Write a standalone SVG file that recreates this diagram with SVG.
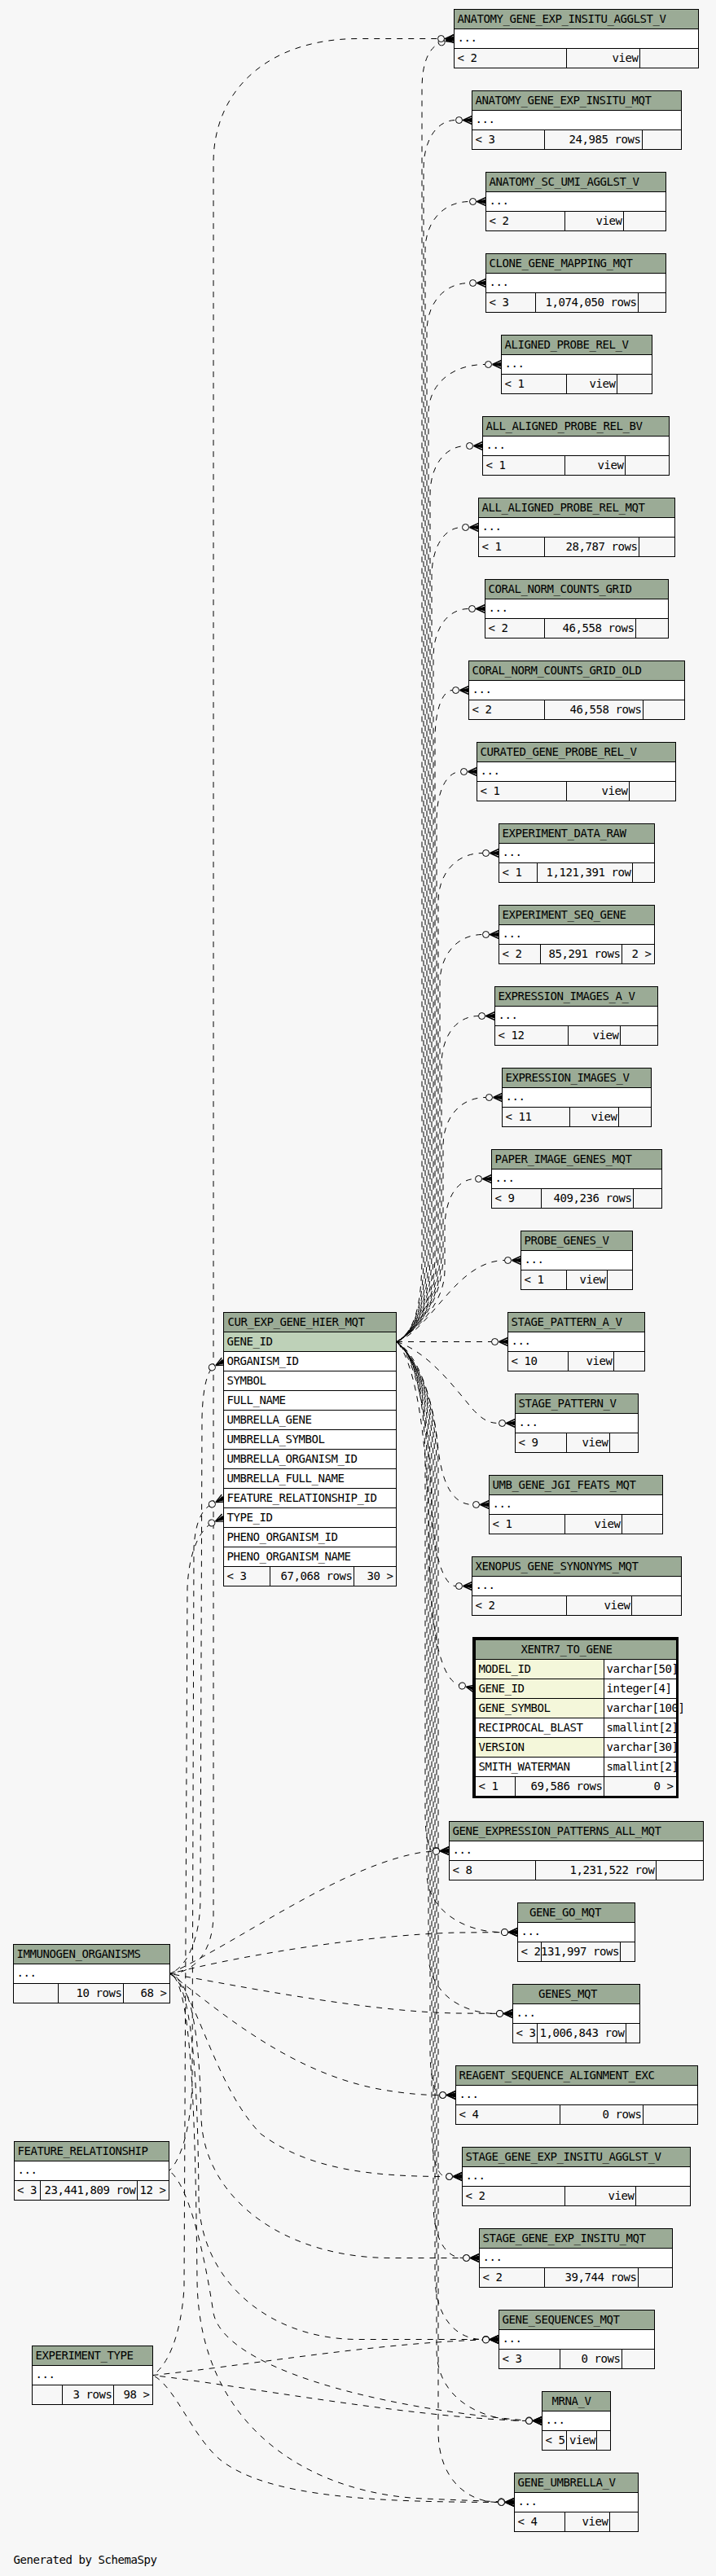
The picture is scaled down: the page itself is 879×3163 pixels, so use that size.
<svg xmlns="http://www.w3.org/2000/svg" width="879" height="3163" viewBox="0 0 879 3163">
<style>
.hd{fill:#9bab96;stroke:#000;stroke-width:1}
.bd{fill:#fff;stroke:#000;stroke-width:1}
.ft{fill:#f7f7f7;stroke:#000;stroke-width:1}
.pk{fill:#bed1b8;stroke:#000;stroke-width:1}
.ix{fill:#f4f7da;stroke:#000;stroke-width:1}
text{font-family:"DejaVu Sans Mono","Liberation Mono",monospace;font-size:14px;letter-spacing:-0.43px;fill:#000}
.r{text-anchor:end}
.e{fill:none;stroke:#000;stroke-width:1;stroke-dasharray:7,7;marker-end:url(#crow)}
</style>
<defs>
<marker id="crow" viewBox="-22 -7 24 14" refX="0" refY="0" markerWidth="24" markerHeight="14" markerUnits="userSpaceOnUse" orient="auto" overflow="visible">
<circle cx="-16" cy="0" r="4" fill="#f7f7f7" stroke="#000" stroke-width="1"/>
<path d="M-11,0 L0,-3 L0,3 Z" fill="#000"/>
<path d="M-11,0 L0,-5 M-11,0 L0,5 M-11,0 L0,0" fill="none" stroke="#000" stroke-width="1.4"/>
</marker>
</defs>
<rect x="0" y="0" width="879" height="3163" fill="#f7f7f7"/>
<g id="connectors">
<path class="e" stroke-dashoffset="0" d="M487,1647.5 C510,1635 518,1600 518,1540 L518,110 C518,70 530,55 545,51 L557.5,47.5"/>
<path class="e" stroke-dashoffset="5" d="M487,1647.5 C510,1635 520,1600 520,1540 L520,207.5 C520,172.5 536,147.5 559.5,147.5 L579.5,147.5"/>
<path class="e" stroke-dashoffset="10" d="M487,1647.5 C510,1635 522,1600 522,1540 L522,307.5 C522,272.5 544,247.5 576.5,247.5 L596.5,247.5"/>
<path class="e" stroke-dashoffset="2" d="M487,1647.5 C510,1635 524,1600 524,1540 L524,407.5 C524,372.5 545,347.5 576.5,347.5 L596.5,347.5"/>
<path class="e" stroke-dashoffset="8" d="M487,1647.5 C510,1635 526,1600 526,1540 L526,507.5 C526,472.5 554,447.5 595.5,447.5 L615.5,447.5"/>
<path class="e" stroke-dashoffset="12" d="M487,1647.5 C510,1635 528,1600 528,1540 L528,607.5 C528,572.5 546,547.5 572.5,547.5 L592.5,547.5"/>
<path class="e" stroke-dashoffset="3" d="M487,1647.5 C510,1635 530,1600 530,1540 L530,707.5 C530,672.5 545,647.5 567.5,647.5 L587.5,647.5"/>
<path class="e" stroke-dashoffset="9" d="M487,1647.5 C510,1635 532,1600 532,1540 L532,807.5 C532,772.5 549,747.5 575.5,747.5 L595.5,747.5"/>
<path class="e" stroke-dashoffset="6" d="M487,1647.5 C510,1635 534,1600 534,1540 L534,907.5 C534,872.5 543,847.5 555.5,847.5 L575.5,847.5"/>
<path class="e" stroke-dashoffset="13" d="M487,1647.5 C510,1635 536,1600 536,1540 L536,1007.5 C536,972.5 548,947.5 565.5,947.5 L585.5,947.5"/>
<path class="e" stroke-dashoffset="1" d="M487,1647.5 C510,1635 538,1600 538,1540 L538,1107.5 C538,1072.5 560,1047.5 592.5,1047.5 L612.5,1047.5"/>
<path class="e" stroke-dashoffset="7" d="M487,1647.5 C510,1635 540,1600 540,1540 L540,1207.5 C540,1172.5 561,1147.5 592.5,1147.5 L612.5,1147.5"/>
<path class="e" stroke-dashoffset="11" d="M487,1647.5 C510,1635 542,1600 542,1540 L542,1307.5 C542,1272.5 560,1247.5 587.5,1247.5 L607.5,1247.5"/>
<path class="e" stroke-dashoffset="4" d="M487,1647.5 C510,1635 544,1600 544,1540 L544,1407.5 C544,1372.5 565,1347.5 596.5,1347.5 L616.5,1347.5"/>
<path class="e" stroke-dashoffset="9" d="M487,1647.5 C510,1635 546,1600 546,1560 L546,1507.5 C546,1472.5 561,1447.5 583.5,1447.5 L603.5,1447.5"/>
<path class="e" d="M487,1647.5 C530,1632 560,1548 619.5,1547.5 L639.5,1547.5"/>
<path class="e" d="M487,1647.5 L623.5,1647.5"/>
<path class="e" d="M487,1647.5 C525,1660 555,1700 580,1730 C592,1743 600,1747.5 612.5,1747.5 L632.5,1747.5"/>
<path class="e" stroke-dashoffset="3" d="M487,1647.5 C515,1665 532,1720 538,1780 C544,1830 560,1847.5 580.5,1847.5 L600.5,1847.5"/>
<path class="e" stroke-dashoffset="8" d="M487,1647.5 C512,1670 528,1750 530,1850 C532,1910 545,1947.5 559.5,1947.5 L579.5,1947.5"/>
<path class="e" stroke-dashoffset="12" d="M487,1647.5 C512,1675 526,1780 527,1900 C528,2000 540,2060 563,2069 L583,2073.5"/>
<path class="e" stroke-dashoffset="0" d="M487,1647.5 C510,1665 522,1720 522,1800 L522,2225 C522,2255 526,2272.5 531.5,2272.5 L551.5,2272.5"/>
<path class="e" stroke-dashoffset="5" d="M487,1647.5 C510,1665 524,1720 524,1800 L524,2300 C524,2345 570,2372.5 615.5,2372.5 L635.5,2372.5"/>
<path class="e" stroke-dashoffset="10" d="M487,1647.5 C510,1665 526,1720 526,1800 L526,2400 C526,2445 565,2472.5 609.5,2472.5 L629.5,2472.5"/>
<path class="e" stroke-dashoffset="2" d="M487,1647.5 C510,1665 528,1720 528,1800 L528,2515 C528,2550 533,2570 539.5,2572.5 L559.5,2572.5"/>
<path class="e" stroke-dashoffset="7" d="M487,1647.5 C510,1665 530,1720 530,1800 L530,2615 C530,2650 537,2672.5 547.5,2672.5 L567.5,2672.5"/>
<path class="e" stroke-dashoffset="13" d="M487,1647.5 C510,1665 532,1720 532,1800 L532,2705 C532,2750 548,2772.5 568.5,2772.5 L588.5,2772.5"/>
<path class="e" stroke-dashoffset="4" d="M487,1647.5 C510,1665 534,1720 534,1800 L534,2795 C534,2845 560,2872.5 592.5,2872.5 L612.5,2872.5"/>
<path class="e" stroke-dashoffset="9" d="M487,1647.5 C510,1665 536,1720 536,1800 L536,2885 C536,2945 590,2972.5 645.5,2972.5 L665.5,2972.5"/>
<path class="e" stroke-dashoffset="1" d="M487,1647.5 C510,1665 538,1720 538,1800 L538,2985 C538,3045 575,3072.5 611.5,3072.5 L631.5,3072.5"/>
<path class="e" d="M208.5,2423.5 C235,2423 262,2400 262,2350 L262,200 C262,110 330,47.5 440,47.5 L557.5,47.5"/>
<path class="e" stroke-dashoffset="6" d="M208.5,2423.5 C230,2415 246,2380 246,2330 L248,1740 C249,1705 254,1685 262,1678 L274.5,1671.5"/>
<path class="e" d="M208.5,2423.5 C300,2380 420,2290 520,2274 L551.5,2272.5"/>
<path class="e" stroke-dashoffset="4" d="M208.5,2423.5 C300,2400 450,2376 560,2373 L635.5,2372.5"/>
<path class="e" stroke-dashoffset="9" d="M208.5,2423.5 C300,2440 450,2470 560,2472 L629.5,2472.5"/>
<path class="e" stroke-dashoffset="2" d="M208.5,2423.5 C260,2460 350,2545 470,2566 C500,2571 520,2572.5 539.5,2572.5 L559.5,2572.5"/>
<path class="e" stroke-dashoffset="11" d="M208.5,2423.5 C240,2440 262,2560 320,2620 C380,2665 460,2672.5 547.5,2672.5 L567.5,2672.5"/>
<path class="e" stroke-dashoffset="5" d="M208.5,2423.5 C235,2430 245,2500 247,2600 C250,2700 350,2772.5 480,2772.5 L588.5,2772.5"/>
<path class="e" stroke-dashoffset="13" d="M208.5,2423.5 C235,2430 243,2550 244,2700 C246,2800 330,2872.5 440,2872.5 L612.5,2872.5"/>
<path class="e" stroke-dashoffset="8" d="M208.5,2423.5 C235,2430 240,2600 242,2800 C244,2980 380,3062 520,3068 L631.5,3072.5"/>
<path class="e" stroke-dashoffset="3" d="M207.5,2665.5 C225,2650 236,2600 236,2550 L238,1900 C240,1865 250,1851 262,1846 L274.5,1839.5"/>
<path class="e" stroke-dashoffset="10" d="M207.5,2665.5 C230,2680 250,2760 262,2840 C275,2905 450,2955 645.5,2972 L665.5,2972.5"/>
<path class="e" stroke-dashoffset="7" d="M187.5,2916.5 C205,2905 222,2870 226,2810 L230,1950 C232,1900 248,1876 262,1869 L274.5,1863.5"/>
<path class="e" d="M187.5,2916.5 C300,2905 450,2878 592.5,2873 L612.5,2872.5"/>
<path class="e" stroke-dashoffset="5" d="M187.5,2916.5 C300,2930 500,2968 645.5,2972.5 L665.5,2972.5"/>
<path class="e" stroke-dashoffset="11" d="M187.5,2916.5 C215,2930 235,2990 270,3020 C330,3068 470,3072 611.5,3072.5 L631.5,3072.5"/>
</g>
<g id="ANATOMY_GENE_EXP_INSITU_AGGLST_V">
<rect class="hd" x="557.5" y="11.5" width="300" height="24"/><rect class="bd" x="557.5" y="35.5" width="300" height="24"/>
<rect class="ft" x="557.5" y="59.5" width="138" height="24"/><rect class="ft" x="695.5" y="59.5" width="90" height="24"/><rect class="ft" x="785.5" y="59.5" width="72" height="24"/>
<text x="561.5" y="27.5">ANATOMY_GENE_EXP_INSITU_AGGLST_V</text><text x="561.5" y="51">...</text><text x="561.5" y="75.5">&lt; 2</text><text class="r" x="783.5" y="75.5">view</text>
</g>
<g id="ANATOMY_GENE_EXP_INSITU_MQT">
<rect class="hd" x="579.5" y="111.5" width="257" height="24"/><rect class="bd" x="579.5" y="135.5" width="257" height="24"/>
<rect class="ft" x="579.5" y="159.5" width="89" height="24"/><rect class="ft" x="668.5" y="159.5" width="120" height="24"/><rect class="ft" x="788.5" y="159.5" width="48" height="24"/>
<text x="583.5" y="127.5">ANATOMY_GENE_EXP_INSITU_MQT</text><text x="583.5" y="151">...</text><text x="583.5" y="175.5">&lt; 3</text><text class="r" x="786.5" y="175.5">24,985 rows</text>
</g>
<g id="ANATOMY_SC_UMI_AGGLST_V">
<rect class="hd" x="596.5" y="211.5" width="221" height="24"/><rect class="bd" x="596.5" y="235.5" width="221" height="24"/>
<rect class="ft" x="596.5" y="259.5" width="97" height="24"/><rect class="ft" x="693.5" y="259.5" width="72" height="24"/><rect class="ft" x="765.5" y="259.5" width="52" height="24"/>
<text x="600.5" y="227.5">ANATOMY_SC_UMI_AGGLST_V</text><text x="600.5" y="251">...</text><text x="600.5" y="275.5">&lt; 2</text><text class="r" x="763.5" y="275.5">view</text>
</g>
<g id="CLONE_GENE_MAPPING_MQT">
<rect class="hd" x="596.5" y="311.5" width="221" height="24"/><rect class="bd" x="596.5" y="335.5" width="221" height="24"/>
<rect class="ft" x="596.5" y="359.5" width="61" height="24"/><rect class="ft" x="657.5" y="359.5" width="126" height="24"/><rect class="ft" x="783.5" y="359.5" width="34" height="24"/>
<text x="600.5" y="327.5">CLONE_GENE_MAPPING_MQT</text><text x="600.5" y="351">...</text><text x="600.5" y="375.5">&lt; 3</text><text class="r" x="781.5" y="375.5">1,074,050 rows</text>
</g>
<g id="ALIGNED_PROBE_REL_V">
<rect class="hd" x="615.5" y="411.5" width="185" height="24"/><rect class="bd" x="615.5" y="435.5" width="185" height="24"/>
<rect class="ft" x="615.5" y="459.5" width="80" height="24"/><rect class="ft" x="695.5" y="459.5" width="62" height="24"/><rect class="ft" x="757.5" y="459.5" width="43" height="24"/>
<text x="619.5" y="427.5">ALIGNED_PROBE_REL_V</text><text x="619.5" y="451">...</text><text x="619.5" y="475.5">&lt; 1</text><text class="r" x="755.5" y="475.5">view</text>
</g>
<g id="ALL_ALIGNED_PROBE_REL_BV">
<rect class="hd" x="592.5" y="511.5" width="229" height="24"/><rect class="bd" x="592.5" y="535.5" width="229" height="24"/>
<rect class="ft" x="592.5" y="559.5" width="101" height="24"/><rect class="ft" x="693.5" y="559.5" width="74" height="24"/><rect class="ft" x="767.5" y="559.5" width="54" height="24"/>
<text x="596.5" y="527.5">ALL_ALIGNED_PROBE_REL_BV</text><text x="596.5" y="551">...</text><text x="596.5" y="575.5">&lt; 1</text><text class="r" x="765.5" y="575.5">view</text>
</g>
<g id="ALL_ALIGNED_PROBE_REL_MQT">
<rect class="hd" x="587.5" y="611.5" width="241" height="24"/><rect class="bd" x="587.5" y="635.5" width="241" height="24"/>
<rect class="ft" x="587.5" y="659.5" width="81" height="24"/><rect class="ft" x="668.5" y="659.5" width="116" height="24"/><rect class="ft" x="784.5" y="659.5" width="44" height="24"/>
<text x="591.5" y="627.5">ALL_ALIGNED_PROBE_REL_MQT</text><text x="591.5" y="651">...</text><text x="591.5" y="675.5">&lt; 1</text><text class="r" x="782.5" y="675.5">28,787 rows</text>
</g>
<g id="CORAL_NORM_COUNTS_GRID">
<rect class="hd" x="595.5" y="711.5" width="225" height="24"/><rect class="bd" x="595.5" y="735.5" width="225" height="24"/>
<rect class="ft" x="595.5" y="759.5" width="73" height="24"/><rect class="ft" x="668.5" y="759.5" width="112" height="24"/><rect class="ft" x="780.5" y="759.5" width="40" height="24"/>
<text x="599.5" y="727.5">CORAL_NORM_COUNTS_GRID</text><text x="599.5" y="751">...</text><text x="599.5" y="775.5">&lt; 2</text><text class="r" x="778.5" y="775.5">46,558 rows</text>
</g>
<g id="CORAL_NORM_COUNTS_GRID_OLD">
<rect class="hd" x="575.5" y="811.5" width="265" height="24"/><rect class="bd" x="575.5" y="835.5" width="265" height="24"/>
<rect class="ft" x="575.5" y="859.5" width="93" height="24"/><rect class="ft" x="668.5" y="859.5" width="121" height="24"/><rect class="ft" x="789.5" y="859.5" width="51" height="24"/>
<text x="579.5" y="827.5">CORAL_NORM_COUNTS_GRID_OLD</text><text x="579.5" y="851">...</text><text x="579.5" y="875.5">&lt; 2</text><text class="r" x="787.5" y="875.5">46,558 rows</text>
</g>
<g id="CURATED_GENE_PROBE_REL_V">
<rect class="hd" x="585.5" y="911.5" width="244" height="24"/><rect class="bd" x="585.5" y="935.5" width="244" height="24"/>
<rect class="ft" x="585.5" y="959.5" width="110" height="24"/><rect class="ft" x="695.5" y="959.5" width="77" height="24"/><rect class="ft" x="772.5" y="959.5" width="57" height="24"/>
<text x="589.5" y="927.5">CURATED_GENE_PROBE_REL_V</text><text x="589.5" y="951">...</text><text x="589.5" y="975.5">&lt; 1</text><text class="r" x="770.5" y="975.5">view</text>
</g>
<g id="EXPERIMENT_DATA_RAW">
<rect class="hd" x="612.5" y="1011.5" width="191" height="24"/><rect class="bd" x="612.5" y="1035.5" width="191" height="24"/>
<rect class="ft" x="612.5" y="1059.5" width="47" height="24"/><rect class="ft" x="659.5" y="1059.5" width="117" height="24"/><rect class="ft" x="776.5" y="1059.5" width="27" height="24"/>
<text x="616.5" y="1027.5">EXPERIMENT_DATA_RAW</text><text x="616.5" y="1051">...</text><text x="616.5" y="1075.5">&lt; 1</text><text class="r" x="774.5" y="1075.5">1,121,391 row</text>
</g>
<g id="EXPERIMENT_SEQ_GENE">
<rect class="hd" x="612.5" y="1111.5" width="191" height="24"/><rect class="bd" x="612.5" y="1135.5" width="191" height="24"/>
<rect class="ft" x="612.5" y="1159.5" width="51" height="24"/><rect class="ft" x="663.5" y="1159.5" width="100" height="24"/><rect class="ft" x="763.5" y="1159.5" width="40" height="24"/>
<text x="616.5" y="1127.5">EXPERIMENT_SEQ_GENE</text><text x="616.5" y="1151">...</text><text x="616.5" y="1175.5">&lt; 2</text><text class="r" x="761.5" y="1175.5">85,291 rows</text><text class="r" x="799.5" y="1175.5">2 &gt;</text>
</g>
<g id="EXPRESSION_IMAGES_A_V">
<rect class="hd" x="607.5" y="1211.5" width="200" height="24"/><rect class="bd" x="607.5" y="1235.5" width="200" height="24"/>
<rect class="ft" x="607.5" y="1259.5" width="90" height="24"/><rect class="ft" x="697.5" y="1259.5" width="64" height="24"/><rect class="ft" x="761.5" y="1259.5" width="46" height="24"/>
<text x="611.5" y="1227.5">EXPRESSION_IMAGES_A_V</text><text x="611.5" y="1251">...</text><text x="611.5" y="1275.5">&lt; 12</text><text class="r" x="759.5" y="1275.5">view</text>
</g>
<g id="EXPRESSION_IMAGES_V">
<rect class="hd" x="616.5" y="1311.5" width="183" height="24"/><rect class="bd" x="616.5" y="1335.5" width="183" height="24"/>
<rect class="ft" x="616.5" y="1359.5" width="83" height="24"/><rect class="ft" x="699.5" y="1359.5" width="60" height="24"/><rect class="ft" x="759.5" y="1359.5" width="40" height="24"/>
<text x="620.5" y="1327.5">EXPRESSION_IMAGES_V</text><text x="620.5" y="1351">...</text><text x="620.5" y="1375.5">&lt; 11</text><text class="r" x="757.5" y="1375.5">view</text>
</g>
<g id="PAPER_IMAGE_GENES_MQT">
<rect class="hd" x="603.5" y="1411.5" width="209" height="24"/><rect class="bd" x="603.5" y="1435.5" width="209" height="24"/>
<rect class="ft" x="603.5" y="1459.5" width="61" height="24"/><rect class="ft" x="664.5" y="1459.5" width="113" height="24"/><rect class="ft" x="777.5" y="1459.5" width="35" height="24"/>
<text x="607.5" y="1427.5">PAPER_IMAGE_GENES_MQT</text><text x="607.5" y="1451">...</text><text x="607.5" y="1475.5">&lt; 9</text><text class="r" x="775.5" y="1475.5">409,236 rows</text>
</g>
<g id="PROBE_GENES_V">
<rect class="hd" x="639.5" y="1511.5" width="137" height="24"/><rect class="bd" x="639.5" y="1535.5" width="137" height="24"/>
<rect class="ft" x="639.5" y="1559.5" width="56" height="24"/><rect class="ft" x="695.5" y="1559.5" width="50" height="24"/><rect class="ft" x="745.5" y="1559.5" width="31" height="24"/>
<text x="643.5" y="1527.5">PROBE_GENES_V</text><text x="643.5" y="1551">...</text><text x="643.5" y="1575.5">&lt; 1</text><text class="r" x="743.5" y="1575.5">view</text>
</g>
<g id="STAGE_PATTERN_A_V">
<rect class="hd" x="623.5" y="1611.5" width="168" height="24"/><rect class="bd" x="623.5" y="1635.5" width="168" height="24"/>
<rect class="ft" x="623.5" y="1659.5" width="74" height="24"/><rect class="ft" x="697.5" y="1659.5" width="56" height="24"/><rect class="ft" x="753.5" y="1659.5" width="38" height="24"/>
<text x="627.5" y="1627.5">STAGE_PATTERN_A_V</text><text x="627.5" y="1651">...</text><text x="627.5" y="1675.5">&lt; 10</text><text class="r" x="751.5" y="1675.5">view</text>
</g>
<g id="STAGE_PATTERN_V">
<rect class="hd" x="632.5" y="1711.5" width="151" height="24"/><rect class="bd" x="632.5" y="1735.5" width="151" height="24"/>
<rect class="ft" x="632.5" y="1759.5" width="63" height="24"/><rect class="ft" x="695.5" y="1759.5" width="53" height="24"/><rect class="ft" x="748.5" y="1759.5" width="35" height="24"/>
<text x="636.5" y="1727.5">STAGE_PATTERN_V</text><text x="636.5" y="1751">...</text><text x="636.5" y="1775.5">&lt; 9</text><text class="r" x="746.5" y="1775.5">view</text>
</g>
<g id="UMB_GENE_JGI_FEATS_MQT">
<rect class="hd" x="600.5" y="1811.5" width="213" height="24"/><rect class="bd" x="600.5" y="1835.5" width="213" height="24"/>
<rect class="ft" x="600.5" y="1859.5" width="93" height="24"/><rect class="ft" x="693.5" y="1859.5" width="70" height="24"/><rect class="ft" x="763.5" y="1859.5" width="50" height="24"/>
<text x="604.5" y="1827.5">UMB_GENE_JGI_FEATS_MQT</text><text x="604.5" y="1851">...</text><text x="604.5" y="1875.5">&lt; 1</text><text class="r" x="761.5" y="1875.5">view</text>
</g>
<g id="XENOPUS_GENE_SYNONYMS_MQT">
<rect class="hd" x="579.5" y="1911.5" width="257" height="24"/><rect class="bd" x="579.5" y="1935.5" width="257" height="24"/>
<rect class="ft" x="579.5" y="1959.5" width="116" height="24"/><rect class="ft" x="695.5" y="1959.5" width="80" height="24"/><rect class="ft" x="775.5" y="1959.5" width="61" height="24"/>
<text x="583.5" y="1927.5">XENOPUS_GENE_SYNONYMS_MQT</text><text x="583.5" y="1951">...</text><text x="583.5" y="1975.5">&lt; 2</text><text class="r" x="773.5" y="1975.5">view</text>
</g>
<g id="XENTR7_TO_GENE">
<rect class="hd" x="583.5" y="2013.5" width="247" height="24"/>
<rect class="ix" x="583.5" y="2037.5" width="158" height="24"/><rect class="bd" x="741.5" y="2037.5" width="89" height="24"/>
<rect class="ix" x="583.5" y="2061.5" width="158" height="24"/><rect class="bd" x="741.5" y="2061.5" width="89" height="24"/>
<rect class="ix" x="583.5" y="2085.5" width="158" height="24"/><rect class="bd" x="741.5" y="2085.5" width="89" height="24"/>
<rect class="bd" x="583.5" y="2109.5" width="158" height="24"/><rect class="bd" x="741.5" y="2109.5" width="89" height="24"/>
<rect class="ix" x="583.5" y="2133.5" width="158" height="24"/><rect class="bd" x="741.5" y="2133.5" width="89" height="24"/>
<rect class="bd" x="583.5" y="2157.5" width="158" height="24"/><rect class="bd" x="741.5" y="2157.5" width="89" height="24"/>
<rect class="ft" x="583.5" y="2181.5" width="49" height="24"/><rect class="ft" x="632.5" y="2181.5" width="109" height="24"/><rect class="ft" x="741.5" y="2181.5" width="89" height="24"/>
<text x="639.5" y="2030">XENTR7_TO_GENE</text>
<text x="587.5" y="2053.5">MODEL_ID</text><text x="744.5" y="2053.5">varchar[50]</text>
<text x="587.5" y="2077.5">GENE_ID</text><text x="744.5" y="2077.5">integer[4]</text>
<text x="587.5" y="2101.5">GENE_SYMBOL</text><text x="744.5" y="2101.5">varchar[100]</text>
<text x="587.5" y="2125.5">RECIPROCAL_BLAST</text><text x="744.5" y="2125.5">smallint[2]</text>
<text x="587.5" y="2149.5">VERSION</text><text x="744.5" y="2149.5">varchar[30]</text>
<text x="587.5" y="2173.5">SMITH_WATERMAN</text><text x="744.5" y="2173.5">smallint[2]</text>
<text x="587.5" y="2197.5">&lt; 1</text><text class="r" x="739.5" y="2197.5">69,586 rows</text><text class="r" x="826.5" y="2197.5">0 &gt;</text>
<rect x="581.5" y="2011.5" width="250" height="195" fill="none" stroke="#000" stroke-width="3"/>
</g>
<g id="GENE_EXPRESSION_PATTERNS_ALL_MQT">
<rect class="hd" x="551.5" y="2236.5" width="312" height="24"/><rect class="bd" x="551.5" y="2260.5" width="312" height="24"/>
<rect class="ft" x="551.5" y="2284.5" width="106" height="24"/><rect class="ft" x="657.5" y="2284.5" width="148" height="24"/><rect class="ft" x="805.5" y="2284.5" width="58" height="24"/>
<text x="555.5" y="2252.5">GENE_EXPRESSION_PATTERNS_ALL_MQT</text><text x="555.5" y="2276">...</text><text x="555.5" y="2300.5">&lt; 8</text><text class="r" x="803.5" y="2300.5">1,231,522 row</text>
</g>
<g id="GENE_GO_MQT">
<rect class="hd" x="635.5" y="2336.5" width="144" height="24"/><rect class="bd" x="635.5" y="2360.5" width="144" height="24"/>
<rect class="ft" x="635.5" y="2384.5" width="29" height="24"/><rect class="ft" x="664.5" y="2384.5" width="97" height="24"/><rect class="ft" x="761.5" y="2384.5" width="18" height="24"/>
<text x="650" y="2352.5">GENE_GO_MQT</text><text x="639.5" y="2376">...</text><text x="639.5" y="2400.5">&lt; 2</text><text class="r" x="760" y="2400.5">131,997 rows</text>
</g>
<g id="GENES_MQT">
<rect class="hd" x="629.5" y="2436.5" width="156" height="24"/><rect class="bd" x="629.5" y="2460.5" width="156" height="24"/>
<rect class="ft" x="629.5" y="2484.5" width="30" height="24"/><rect class="ft" x="659.5" y="2484.5" width="109" height="24"/><rect class="ft" x="768.5" y="2484.5" width="17" height="24"/>
<text x="661" y="2452.5">GENES_MQT</text><text x="633.5" y="2476">...</text><text x="633.5" y="2500.5">&lt; 3</text><text class="r" x="766.5" y="2500.5">1,006,843 row</text>
</g>
<g id="REAGENT_SEQUENCE_ALIGNMENT_EXC">
<rect class="hd" x="559.5" y="2536.5" width="297" height="24"/><rect class="bd" x="559.5" y="2560.5" width="297" height="24"/>
<rect class="ft" x="559.5" y="2584.5" width="128" height="24"/><rect class="ft" x="687.5" y="2584.5" width="102" height="24"/><rect class="ft" x="789.5" y="2584.5" width="67" height="24"/>
<text x="563.5" y="2552.5">REAGENT_SEQUENCE_ALIGNMENT_EXC</text><text x="563.5" y="2576">...</text><text x="563.5" y="2600.5">&lt; 4</text><text class="r" x="787.5" y="2600.5">0 rows</text>
</g>
<g id="STAGE_GENE_EXP_INSITU_AGGLST_V">
<rect class="hd" x="567.5" y="2636.5" width="280" height="24"/><rect class="bd" x="567.5" y="2660.5" width="280" height="24"/>
<rect class="ft" x="567.5" y="2684.5" width="126" height="24"/><rect class="ft" x="693.5" y="2684.5" width="87" height="24"/><rect class="ft" x="780.5" y="2684.5" width="67" height="24"/>
<text x="571.5" y="2652.5">STAGE_GENE_EXP_INSITU_AGGLST_V</text><text x="571.5" y="2676">...</text><text x="571.5" y="2700.5">&lt; 2</text><text class="r" x="778.5" y="2700.5">view</text>
</g>
<g id="STAGE_GENE_EXP_INSITU_MQT">
<rect class="hd" x="588.5" y="2736.5" width="237" height="24"/><rect class="bd" x="588.5" y="2760.5" width="237" height="24"/>
<rect class="ft" x="588.5" y="2784.5" width="80" height="24"/><rect class="ft" x="668.5" y="2784.5" width="115" height="24"/><rect class="ft" x="783.5" y="2784.5" width="42" height="24"/>
<text x="592.5" y="2752.5">STAGE_GENE_EXP_INSITU_MQT</text><text x="592.5" y="2776">...</text><text x="592.5" y="2800.5">&lt; 2</text><text class="r" x="781.5" y="2800.5">39,744 rows</text>
</g>
<g id="GENE_SEQUENCES_MQT">
<rect class="hd" x="612.5" y="2836.5" width="191" height="24"/><rect class="bd" x="612.5" y="2860.5" width="191" height="24"/>
<rect class="ft" x="612.5" y="2884.5" width="75" height="24"/><rect class="ft" x="687.5" y="2884.5" width="76" height="24"/><rect class="ft" x="763.5" y="2884.5" width="40" height="24"/>
<text x="616.5" y="2852.5">GENE_SEQUENCES_MQT</text><text x="616.5" y="2876">...</text><text x="616.5" y="2900.5">&lt; 3</text><text class="r" x="761.5" y="2900.5">0 rows</text>
</g>
<g id="MRNA_V">
<rect class="hd" x="665.5" y="2936.5" width="84" height="24"/><rect class="bd" x="665.5" y="2960.5" width="84" height="24"/>
<rect class="ft" x="665.5" y="2984.5" width="30" height="24"/><rect class="ft" x="695.5" y="2984.5" width="37" height="24"/><rect class="ft" x="732.5" y="2984.5" width="17" height="24"/>
<text x="677.5" y="2952.5">MRNA_V</text><text x="669.5" y="2976">...</text><text x="669.5" y="3000.5">&lt; 5</text><text class="r" x="731" y="3000.5">view</text>
</g>
<g id="GENE_UMBRELLA_V">
<rect class="hd" x="631.5" y="3036.5" width="152" height="24"/><rect class="bd" x="631.5" y="3060.5" width="152" height="24"/>
<rect class="ft" x="631.5" y="3084.5" width="62" height="24"/><rect class="ft" x="693.5" y="3084.5" width="55" height="24"/><rect class="ft" x="748.5" y="3084.5" width="35" height="24"/>
<text x="635.5" y="3052.5">GENE_UMBRELLA_V</text><text x="635.5" y="3076">...</text><text x="635.5" y="3100.5">&lt; 4</text><text class="r" x="746.5" y="3100.5">view</text>
</g>
<g id="CUR_EXP_GENE_HIER_MQT">
<rect class="hd" x="274.5" y="1611.5" width="212" height="24"/>
<rect class="pk" x="274.5" y="1635.5" width="212" height="24"/>
<rect class="bd" x="274.5" y="1659.5" width="212" height="24"/>
<rect class="bd" x="274.5" y="1683.5" width="212" height="24"/>
<rect class="bd" x="274.5" y="1707.5" width="212" height="24"/>
<rect class="bd" x="274.5" y="1731.5" width="212" height="24"/>
<rect class="bd" x="274.5" y="1755.5" width="212" height="24"/>
<rect class="bd" x="274.5" y="1779.5" width="212" height="24"/>
<rect class="bd" x="274.5" y="1803.5" width="212" height="24"/>
<rect class="bd" x="274.5" y="1827.5" width="212" height="24"/>
<rect class="bd" x="274.5" y="1851.5" width="212" height="24"/>
<rect class="bd" x="274.5" y="1875.5" width="212" height="24"/>
<rect class="bd" x="274.5" y="1899.5" width="212" height="24"/>
<rect class="ft" x="274.5" y="1923.5" width="57" height="24"/><rect class="ft" x="331.5" y="1923.5" width="103" height="24"/><rect class="ft" x="434.5" y="1923.5" width="52" height="24"/>
<text x="279.5" y="1627.5">CUR_EXP_GENE_HIER_MQT</text>
<text x="278.5" y="1651.5">GENE_ID</text>
<text x="278.5" y="1675.5">ORGANISM_ID</text>
<text x="278.5" y="1699.5">SYMBOL</text>
<text x="278.5" y="1723.5">FULL_NAME</text>
<text x="278.5" y="1747.5">UMBRELLA_GENE</text>
<text x="278.5" y="1771.5">UMBRELLA_SYMBOL</text>
<text x="278.5" y="1795.5">UMBRELLA_ORGANISM_ID</text>
<text x="278.5" y="1819.5">UMBRELLA_FULL_NAME</text>
<text x="278.5" y="1843.5">FEATURE_RELATIONSHIP_ID</text>
<text x="278.5" y="1867.5">TYPE_ID</text>
<text x="278.5" y="1891.5">PHENO_ORGANISM_ID</text>
<text x="278.5" y="1915.5">PHENO_ORGANISM_NAME</text>
<text x="278.5" y="1939.5">&lt; 3</text><text class="r" x="432.5" y="1939.5">67,068 rows</text><text class="r" x="482.5" y="1939.5">30 &gt;</text>
</g>
<g id="IMMUNOGEN_ORGANISMS">
<rect class="hd" x="16.5" y="2387.5" width="192" height="24"/><rect class="bd" x="16.5" y="2411.5" width="192" height="24"/>
<rect class="ft" x="16.5" y="2435.5" width="55" height="24"/><rect class="ft" x="71.5" y="2435.5" width="80" height="24"/><rect class="ft" x="151.5" y="2435.5" width="57" height="24"/>
<text x="20.5" y="2403.5">IMMUNOGEN_ORGANISMS</text><text x="20.5" y="2427">...</text><text class="r" x="149.5" y="2451.5">10 rows</text><text class="r" x="204.5" y="2451.5">68 &gt;</text>
</g>
<g id="FEATURE_RELATIONSHIP">
<rect class="hd" x="17.5" y="2629.5" width="190" height="24"/><rect class="bd" x="17.5" y="2653.5" width="190" height="24"/>
<rect class="ft" x="17.5" y="2677.5" width="32" height="24"/><rect class="ft" x="49.5" y="2677.5" width="119" height="24"/><rect class="ft" x="168.5" y="2677.5" width="39" height="24"/>
<text x="21.5" y="2645.5">FEATURE_RELATIONSHIP</text><text x="21.5" y="2669">...</text><text x="21" y="2693.5">&lt; 3</text><text class="r" x="166.5" y="2693.5">23,441,809 row</text><text class="r" x="203.5" y="2693.5">12 &gt;</text>
</g>
<g id="EXPERIMENT_TYPE">
<rect class="hd" x="39.5" y="2880.5" width="148" height="24"/><rect class="bd" x="39.5" y="2904.5" width="148" height="24"/>
<rect class="ft" x="39.5" y="2928.5" width="37" height="24"/><rect class="ft" x="76.5" y="2928.5" width="63" height="24"/><rect class="ft" x="139.5" y="2928.5" width="48" height="24"/>
<text x="43.5" y="2896.5">EXPERIMENT_TYPE</text><text x="43.5" y="2920">...</text><text class="r" x="137.5" y="2944.5">3 rows</text><text class="r" x="183.5" y="2944.5">98 &gt;</text>
</g>
<text x="16.5" y="3148">Generated by SchemaSpy</text>
</svg>
